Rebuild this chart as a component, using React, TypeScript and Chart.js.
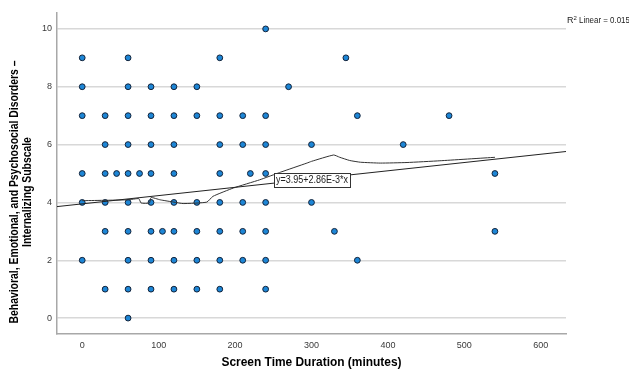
import React, { useEffect, useRef } from "react";
import { Chart, registerables } from "chart.js";

Chart.register(...registerables);

// Scatter points (minutes, subscale score)
const pointX: number[] = [
  0, 0, 0, 0, 0, 0,
  30, 30, 30, 30, 30, 30,
  45,
  60, 60, 60, 60, 60, 60, 60, 60, 60, 60,
  75,
  90, 90, 90, 90, 90, 90, 90, 90,
  105,
  120, 120, 120, 120, 120, 120, 120, 120,
  150, 150, 150, 150, 150, 150,
  180, 180, 180, 180, 180, 180, 180, 180,
  210, 210, 210, 210, 210,
  220,
  240, 240, 240, 240, 240, 240, 240, 240,
  270,
  300, 300,
  330,
  345,
  360, 360,
  420,
  480,
  540, 540,
];
const pointY: number[] = [
  9, 8, 7, 5, 4, 2,
  7, 6, 5, 4, 3, 1,
  5,
  9, 8, 7, 6, 5, 4, 3, 2, 1, 0,
  5,
  8, 7, 6, 5, 4, 3, 2, 1,
  3,
  8, 7, 6, 5, 4, 3, 2, 1,
  8, 7, 4, 3, 2, 1,
  9, 7, 6, 5, 4, 3, 2, 1,
  7, 6, 4, 3, 2,
  5,
  10, 7, 6, 5, 4, 3, 2, 1,
  8,
  6, 4,
  3,
  9,
  7, 2,
  6,
  7,
  5, 3,
];

// Loess (fit line) trace
const loessX: number[] = [0, 60, 74, 77, 88, 90, 102, 120, 132, 163, 171, 198, 232, 260, 294, 300, 329, 337, 350, 364, 390, 425, 468, 540];
const loessY: number[] = [4.06, 4.09, 4.13, 3.98, 3.98, 4.17, 4.09, 4.01, 3.96, 4.01, 4.21, 4.5, 4.78, 5.05, 5.36, 5.42, 5.64, 5.56, 5.45, 5.39, 5.36, 5.38, 5.44, 5.56];

// Linear fit
const intercept = 3.95;
const slope = 0.00286;
const equationText = "y=3.95+2.86E-3*x";
const equationAnchor = { x: 251, y: 4.78 };
const r2Text = "0.015";

// Axes
const xMin = -33;
const xMax = 633;
const yMin = -0.55;
const yMax = 10.55;
const xTicks: number[] = [0, 100, 200, 300, 400, 500, 600];
const yTicks: number[] = [0, 2, 4, 6, 8, 10];
const xTitle = "Screen Time Duration (minutes)";
const yTitleLines: string[] = ["Behavioral, Emotional, and Psychosocial Disorders \u2013", "Internalizing Subscale"];

const FONT = '"Liberation Sans", Arial, sans-serif';

const overlayPlugin = {
  id: "overlay",
  afterDatasetsDraw(chart: any) {
    const ctx = chart.ctx as CanvasRenderingContext2D;
    const xs = chart.scales.x;
    const ys = chart.scales.y;
    const area = chart.chartArea;

    // Equation box
    ctx.save();
    ctx.font = `10px ${FONT}`;
    const ew = ctx.measureText(equationText).width;
    const es = 72 / ew;
    const bx = xs.getPixelForValue(equationAnchor.x);
    const by = ys.getPixelForValue(equationAnchor.y);
    const bw = ew * es + 4;
    const bh = 14;
    ctx.fillStyle = "#ffffff";
    ctx.fillRect(bx, by - bh / 2, bw, bh);
    ctx.strokeStyle = "#333333";
    ctx.lineWidth = 1;
    ctx.strokeRect(Math.round(bx) + 0.5, Math.round(by - bh / 2) + 0.5, Math.round(bw), bh);
    ctx.fillStyle = "#222222";
    ctx.textBaseline = "middle";
    ctx.textAlign = "left";
    ctx.translate(bx + 2, by + 0.5);
    ctx.scale(es, 1);
    ctx.fillText(equationText, 0, 0);
    ctx.restore();

    // R2 label
    ctx.save();
    ctx.fillStyle = "#222222";
    ctx.textBaseline = "alphabetic";
    ctx.textAlign = "left";
    let rx = area.right + 1;
    const ry = area.top + 10;
    ctx.font = `9px ${FONT}`;
    ctx.fillText("R", rx, ry);
    rx += ctx.measureText("R").width;
    ctx.font = `6px ${FONT}`;
    ctx.fillText("2", rx, ry - 3.5);
    rx += ctx.measureText("2").width;
    ctx.font = `9px ${FONT}`;
    ctx.save();
    ctx.translate(rx, ry);
    ctx.scale(0.88, 1);
    ctx.fillText(" Linear = " + r2Text, 0, 0);
    ctx.restore();
    ctx.restore();

    // Y title
    ctx.save();
    ctx.fillStyle = "#000000";
    ctx.font = `bold 12px ${FONT}`;
    ctx.textAlign = "center";
    ctx.textBaseline = "middle";
    const w1 = ctx.measureText(yTitleLines[0]).width;
    const ts = 263 / w1;
    const cy = 192;
    const lineX = [15, 28];
    yTitleLines.forEach((line, i) => {
      ctx.save();
      ctx.translate(lineX[i], cy);
      ctx.rotate(-Math.PI / 2);
      ctx.scale(ts, 1);
      ctx.fillText(line, 0, 0);
      ctx.restore();
    });
    ctx.restore();

    // X title
    ctx.save();
    ctx.fillStyle = "#000000";
    ctx.font = `bold 12px ${FONT}`;
    ctx.textAlign = "center";
    ctx.textBaseline = "middle";
    const xw = ctx.measureText(xTitle).width;
    ctx.translate((area.left + area.right) / 2, 363);
    ctx.scale(180 / xw, 1);
    ctx.fillText(xTitle, 0, 0);
    ctx.restore();
  },
};

export default function App() {
  const ref = useRef<HTMLCanvasElement | null>(null);

  useEffect(() => {
    document.body.style.margin = "0";
    const canvas = ref.current;
    if (!canvas) return;

    const points = pointX.map((x, i) => ({ x, y: pointY[i] }));
    const loess = loessX.map((x, i) => ({ x, y: loessY[i] }));
    const fit = [
      { x: xMin, y: intercept + slope * xMin },
      { x: xMax, y: intercept + slope * xMax },
    ];

    const chart = new Chart(canvas, {
      type: "scatter",
      data: {
        datasets: [
          {
            label: "Linear",
            data: fit,
            showLine: true,
            borderColor: "#222222",
            borderWidth: 1,
            pointRadius: 0,
            fill: false,
          },
          {
            label: "Loess",
            data: loess,
            showLine: true,
            borderColor: "#333333",
            borderWidth: 1,
            pointRadius: 0,
            tension: 0.15,
            fill: false,
          },
          {
            label: "Points",
            data: points,
            pointRadius: 2.9,
            pointBackgroundColor: "#1d86d6",
            pointBorderColor: "#13233a",
            pointBorderWidth: 1,
          },
        ],
      },
      options: {
        animation: false,
        responsive: false,
        devicePixelRatio: 1,
        layout: { padding: { left: 0, top: 13, right: 63, bottom: 0 } },
        plugins: {
          legend: { display: false },
          tooltip: { enabled: false },
        },
        scales: {
          x: {
            type: "linear",
            min: xMin,
            max: xMax,
            afterBuildTicks: (scale: any) => {
              scale.ticks = xTicks.map((v) => ({ value: v }));
            },
            afterFit: (scale: any) => {
              scale.height = 38;
            },
            grid: { display: false, drawTicks: false },
            border: { display: true, color: "#a8a8a8", width: 1.5 },
            ticks: {
              padding: 6,
              color: "#3a3a3a",
              font: { size: 9, family: FONT },
              maxRotation: 0,
              autoSkip: false,
            },
          },
          y: {
            type: "linear",
            min: yMin,
            max: yMax,
            afterBuildTicks: (scale: any) => {
              scale.ticks = yTicks.map((v) => ({ value: v }));
            },
            afterFit: (scale: any) => {
              scale.width = 57;
            },
            grid: { color: "#d8d8d8", lineWidth: 1.5, drawTicks: false },
            border: { display: true, color: "#a8a8a8", width: 1.5 },
            ticks: {
              padding: 5,
              color: "#3a3a3a",
              font: { size: 9, family: FONT },
              autoSkip: false,
            },
          },
        },
      },
      plugins: [overlayPlugin],
    });

    return () => chart.destroy();
  }, []);

  return (
    <div style={{ position: "absolute", left: 0, top: 0, width: 629, height: 372 }}>
      <canvas ref={ref} width={629} height={372} style={{ width: 629, height: 372 }} />
    </div>
  );
}
